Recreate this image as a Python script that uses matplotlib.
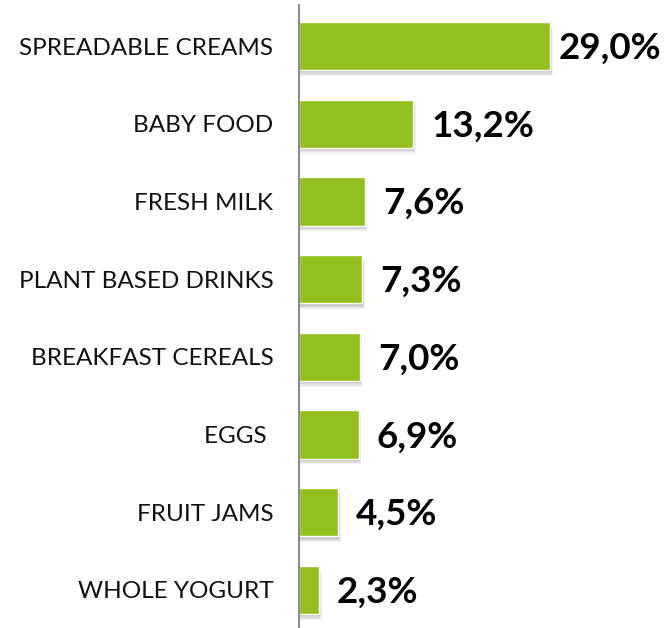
import matplotlib
matplotlib.use("Agg")
import matplotlib.pyplot as plt
from matplotlib.patches import Rectangle

categories = ["SPREADABLE CREAMS", "BABY FOOD", "FRESH MILK", "PLANT BASED DRINKS",
              "BREAKFAST CEREALS", "EGGS ", "FRUIT JAMS", "WHOLE YOGURT"]
values = [29.0, 13.2, 7.6, 7.3, 7.0, 6.9, 4.5, 2.3]
value_labels = ["29,0%", "13,2%", "7,6%", "7,3%", "7,0%", "6,9%", "4,5%", "2,3%"]

W, H = 666, 628
fig = plt.figure(figsize=(W / 100, H / 100), dpi=100)
ax = fig.add_axes([299 / W, 0, (W - 299) / W, 623 / H])

bar_color = "#93bf1f"
bar_h = 0.62
ypos = list(range(len(categories)))

# soft drop shadow under each bar
for i, v in enumerate(values):
    for k, a in enumerate([0.05, 0.05, 0.06, 0.07]):
        off_x = 0.12 + 0.06 * (3 - k)
        off_y = 0.03 + 0.015 * (3 - k)
        ax.add_patch(Rectangle((0, i - bar_h / 2 + off_y), v + off_x, bar_h,
                               facecolor="#000000", alpha=a, edgecolor="none", zorder=1))

ax.barh(ypos, values, height=bar_h, color=bar_color, edgecolor="white",
        linewidth=1.0, zorder=2)

# value labels; the longest bar's label sits closer so it fits inside the figure
vmax = max(values)
for i, (v, lab) in enumerate(zip(values, value_labels)):
    gap = 1.0 if v == vmax else 2.1
    ax.text(v + gap, i + 0.03, lab, ha="left", va="center", fontsize=26.5,
            fontweight="bold", family="Lato", color="#000000")

ax.set_xlim(0, (W - 299) / 8.66)
ax.set_ylim(7.49, -0.528)

ax.set_yticks(ypos)
ax.set_yticklabels(categories, fontsize=17.5, family="Lato", color="#111111")
ax.tick_params(axis="y", length=0, pad=18.5)
ax.set_xticks([])

for s in ["top", "right", "bottom"]:
    ax.spines[s].set_visible(False)
ax.spines["left"].set_color("#8c8c8c")
ax.spines["left"].set_linewidth(1.5)
ax.spines["left"].set_zorder(3)

fig.savefig("out.png", dpi=100)
